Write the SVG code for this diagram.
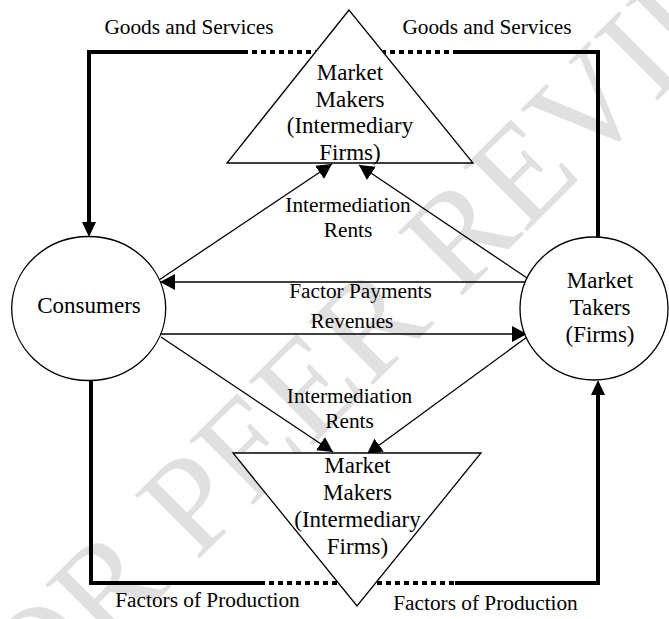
<svg xmlns="http://www.w3.org/2000/svg" width="669" height="619" viewBox="0 0 669 619">
<style>
.node{fill:#fff;stroke:#000;stroke-width:1.3}
.lbl{font-family:"Liberation Serif","Times New Roman",serif;font-size:21.3px;fill:#000;text-anchor:middle}
.ntx{font-family:"Liberation Serif","Times New Roman",serif;font-size:23px;fill:#000;text-anchor:middle}
.thick{fill:none;stroke:#000;stroke-width:4;stroke-linejoin:miter}
.dot{fill:none;stroke:#000;stroke-width:4;stroke-dasharray:5 4}
.thin{fill:none;stroke:#000;stroke-width:1.3}
.wm{font-family:"Liberation Serif","Times New Roman",serif;font-size:138px;fill:#e0e0e0;text-anchor:middle}
</style>
<defs>
<marker id="ah" markerUnits="userSpaceOnUse" markerWidth="16" markerHeight="16" refX="15" refY="8" orient="auto" viewBox="0 0 16 16">
<path d="M0,0 L15,8 L0,16 z" fill="#000"/>
</marker>
<marker id="ahT" markerUnits="userSpaceOnUse" markerWidth="16" markerHeight="15" refX="5" refY="7" orient="auto" viewBox="0 0 16 15">
<path d="M0,0 L15,7 L0,14 z" fill="#000"/>
</marker>
</defs>
<rect width="669" height="619" fill="#fff"/>
<text class="wm" transform="translate(410,348) rotate(-45)">FOR PEER REVIEW</text>
<g id="connectors">
<path class="thick" d="M243,52 H89 V227" marker-end="url(#ahT)"/>
<path class="dot" d="M243,52 H316"/>
<path class="thick" d="M598,237 V52 H458"/>
<path class="dot" d="M458,52 H383"/>
<path class="thick" d="M91,381 V583 H260"/>
<path class="dot" d="M260,583 H338"/>
<path class="dot" d="M377,583 H455"/>
<path class="thick" d="M455,583 H598 V390" marker-end="url(#ahT)"/>
<path class="thin" d="M527,282 H160" marker-end="url(#ah)"/>
<path class="thin" d="M160,334 H527" marker-end="url(#ah)"/>
<path class="thin" d="M159,280 L332,164" marker-end="url(#ah)"/>
<path class="thin" d="M527,278 L359,165" marker-end="url(#ah)"/>
<path class="thin" d="M161,337 L333,452" marker-end="url(#ah)"/>
<path class="thin" d="M527,337 L367,454" marker-end="url(#ah)"/>
</g>
<g id="top-makers">
<polygon class="node" points="349,10 227,163 473,163"/>
<text class="ntx" x="350" y="80">Market</text>
<text class="ntx" x="350" y="107">Makers</text>
<text class="ntx" x="350" y="133">(Intermediary</text>
<text class="ntx" x="350" y="160">Firms)</text>
</g>
<g id="bottom-makers">
<polygon class="node" points="233,453 481,453 357,606"/>
<text class="ntx" x="357.5" y="473">Market</text>
<text class="ntx" x="357.5" y="500">Makers</text>
<text class="ntx" x="357.5" y="527">(Intermediary</text>
<text class="ntx" x="357.5" y="554">Firms)</text>
</g>
<g id="consumers">
<ellipse class="node" cx="88.7" cy="308.5" rx="77" ry="72"/>
<text class="ntx" x="89" y="313">Consumers</text>
</g>
<g id="market-takers">
<ellipse class="node" cx="594" cy="308.5" rx="74" ry="71.5"/>
<text class="ntx" x="600" y="288">Market</text>
<text class="ntx" x="600" y="315">Takers</text>
<text class="ntx" x="600" y="342">(Firms)</text>
</g>
<g id="labels">
<text class="lbl" x="189" y="34">Goods and Services</text>
<text class="lbl" x="487" y="34">Goods and Services</text>
<text class="lbl" x="348" y="212">Intermediation</text>
<text class="lbl" x="348" y="237">Rents</text>
<text class="lbl" x="360.5" y="298">Factor Payments</text>
<text class="lbl" x="352" y="328">Revenues</text>
<text class="lbl" x="349.5" y="403">Intermediation</text>
<text class="lbl" x="349.5" y="428">Rents</text>
<text class="lbl" x="207.5" y="607">Factors of Production</text>
<text class="lbl" x="485.5" y="610">Factors of Production</text>
</g>
</svg>
